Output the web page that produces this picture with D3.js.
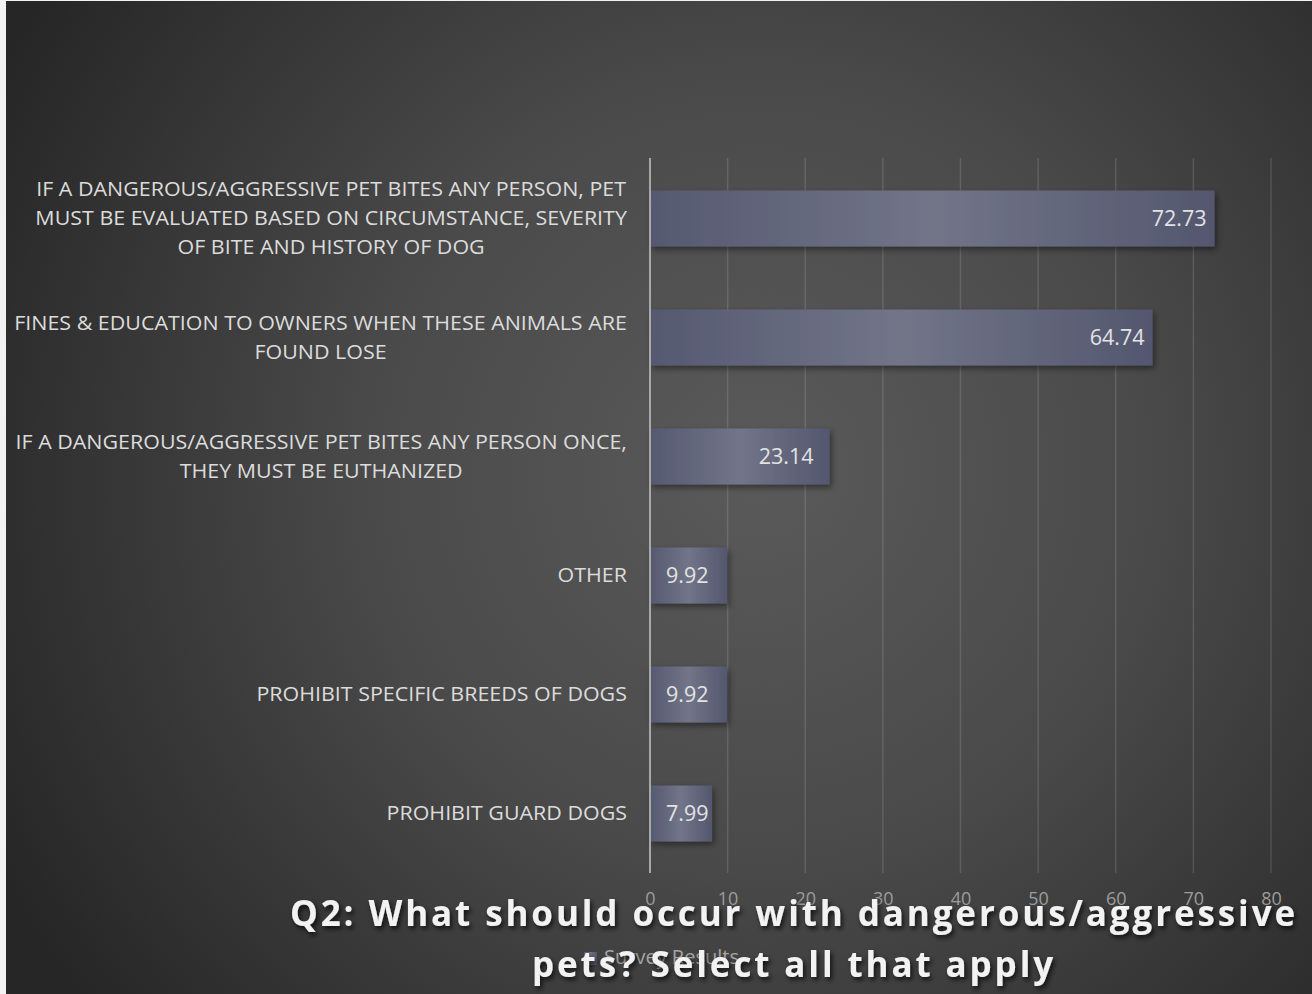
<!DOCTYPE html>
<html>
<head>
<meta charset="utf-8">
<script src="https://cdn.jsdelivr.net/npm/d3@7"></script>
<style>
  html, body { margin: 0; padding: 0; background: #f2f2f2; }
  svg { display: block; }
</style>
</head>
<body>
<svg id="chart" width="1312" height="994"></svg>
<script>
// ---- data ----
const categories = [
  "IF A DANGEROUS/AGGRESSIVE PET BITES ANY PERSON, PET|MUST BE EVALUATED BASED ON CIRCUMSTANCE, SEVERITY|OF BITE AND HISTORY OF DOG",
  "FINES & EDUCATION TO OWNERS WHEN THESE ANIMALS ARE|FOUND LOSE",
  "IF A DANGEROUS/AGGRESSIVE PET BITES ANY PERSON ONCE,|THEY MUST BE EUTHANIZED",
  "OTHER",
  "PROHIBIT SPECIFIC BREEDS OF DOGS",
  "PROHIBIT GUARD DOGS"
];
const values = [72.73, 64.74, 23.14, 9.92, 9.92, 7.99];
const tickValues = [0, 10, 20, 30, 40, 50, 60, 70, 80];
const seriesName = "Survey Results";
const titleLines = ["Q2: What should occur with dangerous/aggressive", "pets? Select all that apply"];

// ---- layout ----
const W = 1312, H = 994;
const plot = { left: 650, right: 1271, top: 159, bottom: 873 };
const svg = d3.select("#chart");
const defs = svg.append("defs");

// background gradient
const bg = defs.append("radialGradient").attr("id", "bgGrad")
  .attr("gradientUnits", "userSpaceOnUse")
  .attr("cx", 760).attr("cy", 470).attr("r", 860);
bg.append("stop").attr("offset", 0).attr("stop-color", "#5a5a5a");
bg.append("stop").attr("offset", 0.45).attr("stop-color", "#4a4a4a");
bg.append("stop").attr("offset", 1).attr("stop-color", "#262626");

const barGrad = defs.append("linearGradient").attr("id", "barGrad")
  .attr("x1", 0).attr("x2", 1).attr("y1", 0).attr("y2", 0);
barGrad.append("stop").attr("offset", 0).attr("stop-color", "#555970");
barGrad.append("stop").attr("offset", 0.5).attr("stop-color", "#727588");
barGrad.append("stop").attr("offset", 1).attr("stop-color", "#53576e");

const sh = defs.append("filter").attr("id", "barShadow")
  .attr("x", "-10%").attr("y", "-30%").attr("width", "130%").attr("height", "170%");
sh.append("feDropShadow").attr("dx", 2).attr("dy", 3).attr("stdDeviation", 3)
  .attr("flood-color", "#000").attr("flood-opacity", 0.45);

const tsh = defs.append("filter").attr("id", "titleShadow")
  .attr("x", "-5%").attr("y", "-30%").attr("width", "110%").attr("height", "170%");
tsh.append("feDropShadow").attr("dx", 2).attr("dy", 3).attr("stdDeviation", 2.5)
  .attr("flood-color", "#000").attr("flood-opacity", 0.75);

svg.append("rect").attr("x", 6).attr("y", 1).attr("width", W - 6).attr("height", H - 1)
  .attr("fill", "url(#bgGrad)");

// scales
const x = d3.scaleLinear().domain([0, 80]).range([plot.left, plot.right]);
const y = d3.scaleBand().domain(categories).range([plot.top, plot.bottom])
  .paddingInner(0.53).paddingOuter(0.265);

// gridlines
svg.append("g").selectAll("line").data(tickValues.slice(1)).join("line")
  .attr("x1", d => x(d)).attr("x2", d => x(d))
  .attr("y1", plot.top - 1).attr("y2", plot.bottom)
  .attr("stroke", "#ffffff").attr("stroke-opacity", 0.13).attr("stroke-width", 1.5);

// bars
const barData = categories.map((c, i) => ({ c, v: values[i] }));
svg.append("g").selectAll("rect").data(barData).join("rect")
  .attr("x", x(0)).attr("y", d => y(d.c))
  .attr("width", d => x(d.v) - x(0)).attr("height", y.bandwidth())
  .attr("fill", "url(#barGrad)").attr("filter", "url(#barShadow)");

// vertical axis line
svg.append("line").attr("x1", x(0)).attr("x2", x(0))
  .attr("y1", plot.top - 1).attr("y2", plot.bottom)
  .attr("stroke", "#a8a8a8").attr("stroke-width", 2);

// data labels
const small = d => (x(d.v) - x(0)) < 90;
svg.append("g").selectAll("text").data(barData).join("text")
  .attr("x", d => small(d) ? x(0) + 16 : (d.v < 40 ? x(d.v) - 16 : x(d.v) - 8))
  .attr("text-anchor", d => small(d) ? "start" : "end")
  .attr("y", d => y(d.c) + y.bandwidth() / 2 + 7.5)
  .attr("font-family", "Open Sans").attr("font-size", 21.5)
  .attr("fill", "#e3e3e3")
  .text(d => d.v.toFixed(2));

// x axis tick labels
const xAxis = d3.axisBottom(x).tickValues(tickValues).tickSize(0).tickPadding(0).tickFormat(d3.format("d"));
const ax = svg.append("g").attr("transform", `translate(0,${plot.bottom + 27})`).call(xAxis);
ax.select(".domain").remove();
ax.selectAll("text").attr("font-family", "Open Sans").attr("font-size", 18)
  .attr("fill", "#9c9c9c").attr("dy", "0.3em");

// category labels
const labelRight = 627, lineH = 29, fontSize = 19.5;
const lg = svg.append("g");
const groups = lg.selectAll("g").data(categories).join("g");
groups.each(function (c) {
  const g = d3.select(this);
  const lines = c.split("|");
  const cy = y(c) + y.bandwidth() / 2;
  lines.forEach((ln, i) => {
    g.append("text").attr("class", "cl")
      .attr("y", cy + (i - (lines.length - 1) / 2) * lineH + 7)
      .attr("font-family", "Open Sans").attr("font-size", fontSize)
      .attr("fill", "#dcdcdc").attr("text-anchor", "middle")
      .text(ln);
  });
});
// measure to condense like Calibri
let refW = 0;
lg.selectAll("text.cl").each(function () {
  if (this.textContent.startsWith("IF A DANGEROUS/AGGRESSIVE PET BITES ANY PERSON, PET")) refW = this.getComputedTextLength();
});
const condense = refW ? 590 / refW : 0.85;
groups.each(function () {
  const g = d3.select(this);
  let maxW = 0;
  g.selectAll("text").each(function () { maxW = Math.max(maxW, this.getComputedTextLength()); });
  g.selectAll("text").attr("x", -maxW / 2);
  g.attr("transform", `translate(${labelRight},0) scale(${condense},1)`);
});

// legend
svg.append("rect").attr("x", 584).attr("y", 952).attr("width", 13).attr("height", 13)
  .attr("fill", "url(#barGrad)");
svg.append("text").attr("x", 604).attr("y", 964)
  .attr("font-family", "Open Sans").attr("font-size", 20)
  .attr("fill", "#a6a6a6").text(seriesName);

// title
const tg = svg.append("g").attr("filter", "url(#titleShadow)");
const titleBase = [926, 977];
const tt = tg.selectAll("text").data(titleLines).join("text")
  .attr("x", 794).attr("y", (d, i) => titleBase[i])
  .attr("text-anchor", "middle")
  .attr("font-family", "Open Sans").attr("font-weight", 700).attr("font-size", 35)
  .attr("fill", "#f2f2f2").text(d => d);
// letter spacing to match target width of first line
const first = tt.nodes()[0];
const natW = first.getComputedTextLength();
const ls = (1008 - natW) / (titleLines[0].length);
tt.attr("letter-spacing", ls.toFixed(2));
</script>
</body>
</html>
